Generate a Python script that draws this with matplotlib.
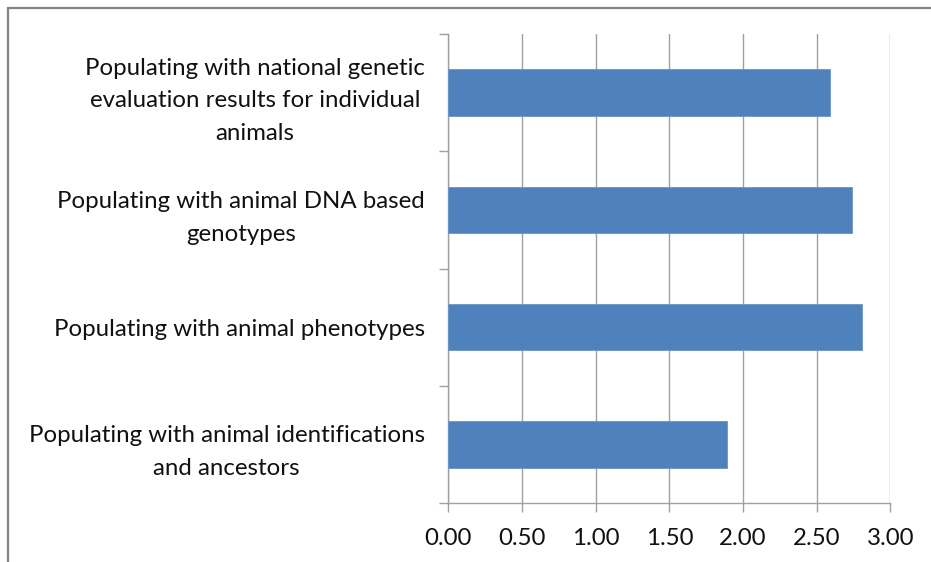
import numpy as np
import matplotlib.pyplot as plt
from matplotlib.patches import Rectangle
from matplotlib.ticker import FixedLocator

#categories from bottom to top, as in the chart
categories = ['Populating with animal identifications\nand ancestors',
              'Populating with animal phenotypes',
              'Populating with animal DNA based\ngenotypes',
              'Populating with national genetic\nevaluation results for individual\nanimals']
scores = [1.89, 2.81, 2.74, 2.59]
xticks = [0.0, 0.5, 1.0, 1.5, 2.0, 2.5, 3.0]

plt.rcParams['font.family'] = ['Lato', 'DejaVu Sans']

fig = plt.figure(figsize=(9.31, 5.62), dpi=100)
ax = fig.add_axes([448.3/931, 1 - 502.7/562, 442/931, 468.4/562])

pos = np.arange(len(categories))
ax.barh(pos, scores, height=0.4, color='#4F81BD', edgecolor='#6A95C9', linewidth=0.6, zorder=3)

ax.set_xlim(0, 3)
ax.set_ylim(-0.5, len(categories) - 0.5)
ax.set_xticks(xticks)
ax.set_xticklabels(['%.2f' % t for t in xticks], fontsize=17.3, color='#111111')
ax.set_yticks(pos)
ax.set_yticklabels(categories, fontsize=17.3, color='#111111',
                   multialignment='center', linespacing=1.68)
ax.yaxis.set_minor_locator(FixedLocator(np.arange(-0.5, len(categories), 1.0)))

ax.grid(axis='x', color='#A0A0A0', linewidth=1.0, zorder=0)
ax.tick_params(axis='x', length=6.5, width=1.0, color='#A0A0A0', pad=12)
ax.tick_params(axis='y', which='major', length=0, pad=17)
ax.tick_params(axis='y', which='minor', length=6.5, width=1.0, color='#A0A0A0')

for s in ['top', 'right']:
    ax.spines[s].set_visible(False)
for s in ['left', 'bottom']:
    ax.spines[s].set_color('#A0A0A0')
    ax.spines[s].set_linewidth(1.0)

#outer chart frame (cut off at right and bottom)
fig.patches.append(Rectangle((7.5/931, -0.1), 1.0, 1.1 - 7.5/562, transform=fig.transFigure,
                             fill=False, edgecolor='#858585', linewidth=1.6))

plt.savefig('out.png', dpi=100)
